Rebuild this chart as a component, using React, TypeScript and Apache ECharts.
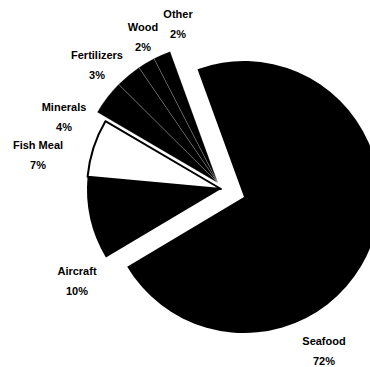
import React, { useEffect, useRef } from 'react';
import * as echarts from 'echarts';

// ---- data ----
const categories = ['Seafood', 'Aircraft', 'Fish Meal', 'Minerals', 'Fertilizers', 'Wood', 'Other'];
const shares = [72, 10, 7, 4, 3, 2, 2];
const percentLabels = ['72%', '10%', '7%', '4%', '3%', '2%', '2%'];

// ---- layout (exploded groups) ----
const groups: { members: string[]; center: [number, number]; radius: number }[] = [
  { members: ['Seafood'], center: [244, 197], radius: 136 },
  { members: ['Aircraft', 'Fish Meal'], center: [221, 189], radius: 134 },
  { members: ['Minerals', 'Fertilizers', 'Wood', 'Other'], center: [218, 183], radius: 140 },
];

const labelCenters: Record<string, [number, number]> = {
  Seafood: [324, 351],
  Aircraft: [77, 281],
  'Fish Meal': [38, 155],
  Minerals: [64, 117],
  Fertilizers: [97, 65],
  Wood: [143, 37],
  Other: [178, 24],
};

const FONT = '"Liberation Sans", Arial, sans-serif';

function sliceStyle(name: string) {
  if (name === 'Fish Meal') {
    return { color: '#ffffff', borderColor: '#000000', borderWidth: 2 };
  }
  if (name === 'Seafood' || name === 'Aircraft') {
    return { color: '#000000', borderWidth: 0 };
  }
  return { color: '#000000', borderColor: 'rgba(255,255,255,0.3)', borderWidth: 0.6 };
}

export default function App() {
  const ref = useRef<HTMLDivElement>(null);

  useEffect(() => {
    if (!ref.current) return;
    const chart = echarts.init(ref.current, undefined, { renderer: 'svg' });

    const series = groups.map((g) => ({
      type: 'pie',
      silent: true,
      animation: false,
      startAngle: 110,
      clockwise: true,
      center: g.center,
      radius: g.radius,
      avoidLabelOverlap: false,
      emphasis: { disabled: true },
      label: {
        show: true,
        formatter: (p: any) => `${p.name}\n${percentLabels[p.dataIndex]}`,
        fontSize: 11,
        fontWeight: 'bold',
        fontFamily: FONT,
        lineHeight: 20,
        color: '#000',
      },
      labelLine: { show: false },
      labelLayout: (p: any) => {
        const pos = labelCenters[categories[p.dataIndex]];
        return { x: pos[0], y: pos[1], align: 'center', verticalAlign: 'middle' };
      },
      data: categories.map((name, i) =>
        g.members.includes(name)
          ? { name, value: shares[i], itemStyle: sliceStyle(name) }
          : {
              name,
              value: shares[i],
              itemStyle: { color: 'rgba(0,0,0,0)', borderWidth: 0 },
              label: { show: false },
            }
      ),
    }));

    chart.setOption({
      animation: false,
      backgroundColor: '#ffffff',
      series,
    } as any);

    return () => chart.dispose();
  }, []);

  return (
    <div
      ref={ref}
      style={{ position: 'absolute', left: 0, top: 0, width: 370, height: 367, background: '#fff' }}
    />
  );
}
